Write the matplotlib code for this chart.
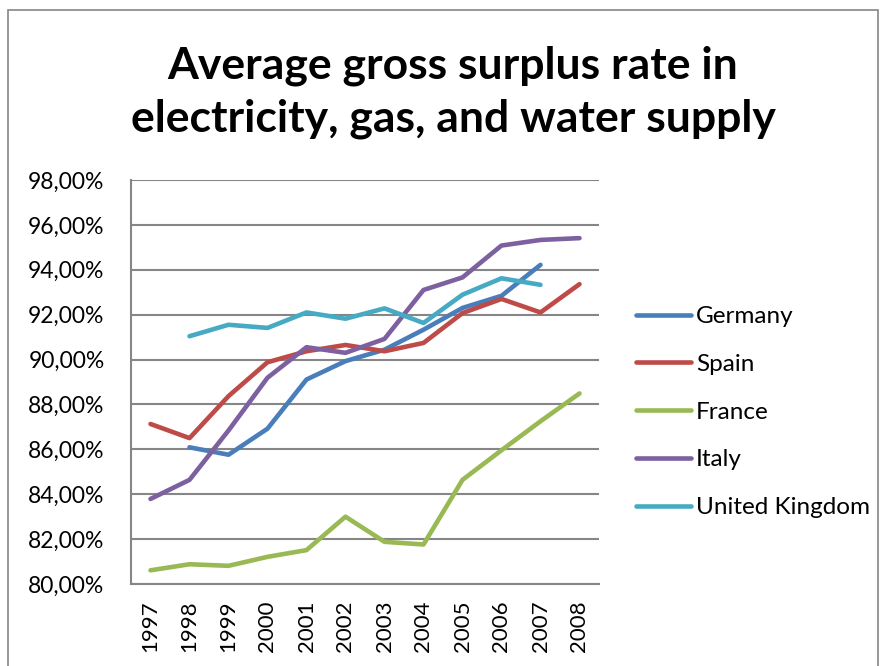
import numpy as np
import matplotlib.pyplot as plt
from matplotlib.patches import Rectangle
from matplotlib.ticker import FuncFormatter

# Values (percent)
years = ['1997', '1998', '1999', '2000', '2001', '2002',
         '2003', '2004', '2005', '2006', '2007', '2008']
germany = [np.nan, 86.09, 85.76, 86.92, 89.11, 89.93, 90.44, 91.33, 92.30, 92.84, 94.22, np.nan]
spain = [87.13, 86.50, 88.37, 89.88, 90.37, 90.65, 90.37, 90.74, 92.07, 92.70, 92.10, 93.36]
france = [80.61, 80.88, 80.81, 81.21, 81.51, 83.00, 81.88, 81.76, 84.64, 85.96, 87.25, 88.49]
italy = [83.79, 84.64, 86.84, 89.19, 90.55, 90.30, 90.92, 93.10, 93.66, 95.08, 95.33, 95.41]
uk = [np.nan, 91.04, 91.55, 91.41, 92.10, 91.82, 92.28, 91.63, 92.89, 93.62, 93.33, np.nan]

series = [('Germany', germany, '#4A7EBB'),
          ('Spain', spain, '#BE4B48'),
          ('France', france, '#98B954'),
          ('Italy', italy, '#7D60A0'),
          ('United Kingdom', uk, '#46AAC5')]

plt.rcParams['font.family'] = ['Lato', 'DejaVu Sans']

fig = plt.figure(figsize=(8.83, 6.66), dpi=100)
ax = fig.add_axes([131 / 883, 1 - 584 / 666, 468 / 883, 404 / 666])

x = np.arange(len(years))
for name, vals, col in series:
    ax.plot(x, vals, color=col, linewidth=3.3, label=name,
            solid_capstyle='round', solid_joinstyle='round')

ax.set_xlim(-0.5, len(years) - 0.5)
ax.set_ylim(80, 98)
ax.set_yticks(np.arange(80, 99, 2))
ax.yaxis.set_major_formatter(FuncFormatter(lambda v, p: f'{v:.2f}%'.replace('.', ',')))
ax.set_xticks(x)
ax.set_xticklabels(years, rotation=90)
ax.tick_params(axis='both', length=0, colors='black')
ax.tick_params(axis='y', pad=19, labelsize=16.5)
ax.tick_params(axis='x', pad=12, labelsize=16)

ax.grid(axis='y', color='#868686', linewidth=1.5)
ax.set_axisbelow(True)
for s in ['top', 'right']:
    ax.spines[s].set_visible(False)
for s in ['left', 'bottom']:
    ax.spines[s].set_color('#868686')
    ax.spines[s].set_linewidth(1.5)

# Title
fig.text(453 / 883, 1 - 92 / 666, 'Average gross surplus rate in\nelectricity, gas, and water supply',
         ha='center', va='center', fontsize=32, fontweight='bold', linespacing=1.38)

# Legend
fig.legend(loc='upper left', bbox_to_anchor=(636 / 883, 1 - 306 / 666), frameon=False,
           borderpad=0, borderaxespad=0, fontsize=17.5, handlelength=2.26,
           handletextpad=0.2, labelspacing=1.1)

# Outer chart frame
fig.patches.append(Rectangle((8 / 883, -0.05), 870 / 883, 1.05 - 10 / 666,
                             transform=fig.transFigure, fill=False,
                             edgecolor='#868686', linewidth=1.2))

fig.savefig('out.png', dpi=100)
